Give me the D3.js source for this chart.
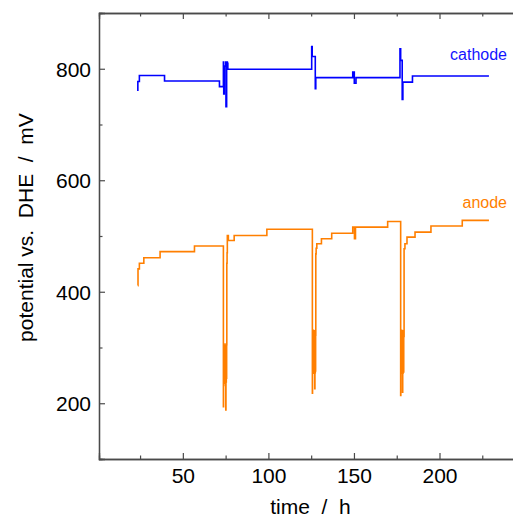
<!DOCTYPE html>
<html>
<head>
<meta charset="utf-8">
<script src="https://cdn.jsdelivr.net/npm/d3@7"></script>
<style>
  body { margin: 0; background: #fff; }
  svg { display: block; font-family: "Liberation Sans", Arial, sans-serif; }
</style>
</head>
<body>
<div id="chart"></div>
<script>
// step-after points: [time / h, potential / mV]
const cathode = [
  [23.7, 760], [23.7, 777], [24.6, 788], [39.3, 778], [71.4, 768],
  [73.7, 812], [73.9, 755], [74.2, 805], [75.1, 812], [75.2, 732],
  [75.6, 812], [76.0, 810], [76.3, 799],
  [125.3, 840], [125.6, 822], [127.4, 764], [127.7, 784],
  [149.3, 794], [150.2, 774], [151.2, 784],
  [176.9, 836], [177.3, 815], [178.2, 745], [178.6, 776],
  [184.2, 787], [228.9, 787]
]

const anode = [
  [23.7, 411], [23.8, 441], [24.6, 451], [27.2, 461], [36.7, 472], [56.8, 482],
  [73.7, 194], [73.8, 300], [73.9, 232], [74.0, 306], [74.1, 238], [74.2, 300],
  [74.3, 236], [74.4, 304], [74.5, 240], [74.6, 298], [74.7, 236], [74.8, 302],
  [74.9, 240], [75.0, 300], [75.1, 188], [75.2, 306], [75.3, 238], [75.4, 300],
  [75.5, 245], [75.6, 305],
  [75.7, 451], [75.85, 470], [76.0, 501], [76.6, 492], [80.0, 501], [99.1, 512],
  [125.7, 218], [125.8, 330], [125.9, 255], [126.0, 328], [126.1, 260], [126.2, 331],
  [126.3, 254], [126.4, 326], [126.5, 258], [126.6, 330], [126.7, 256], [126.8, 325],
  [126.9, 260], [127.0, 330], [127.1, 226], [127.2, 328], [127.3, 255], [127.4, 330],
  [127.5, 258], [127.6, 322],
  [127.7, 468], [127.9, 478], [128.3, 486], [131.0, 495], [137.0, 505],
  [149.3, 516], [150.3, 495], [150.9, 516], [169.7, 526],
  [177.3, 214], [177.4, 330], [177.5, 256], [177.6, 328], [177.7, 254], [177.8, 331],
  [177.9, 258], [178.0, 326], [178.1, 255], [178.2, 330], [178.3, 258], [178.4, 220],
  [178.5, 329], [178.6, 254], [178.7, 330], [178.8, 260], [178.9, 325], [179.0, 256],
  [179.1, 320],
  [179.3, 477], [179.8, 486], [181.0, 498], [185.7, 507], [195.0, 518], [213.3, 528],
  [228.9, 528]
]

const xMajor = [50, 100, 150, 200]
const xMinor = [25, 75, 125, 175, 225]
const yMajor = [200, 400, 600, 800]
const yMinor = [300, 500, 700]

const width = 513
const height = 519
const plotLeft = 99
const plotTop = 13
const plotBottom = 459

const svg = d3.select('#chart').append('svg')
  .attr('width', width)
  .attr('height', height)

const x = d3.scaleLinear().domain([1, 245]).range([plotLeft, 516.5])
const y = d3.scaleLinear().domain([100, 900]).range([plotBottom, plotTop])

const axisColor = '#4a4a4a'

function styleAxis (g) {
  g.selectAll('path').attr('stroke', axisColor).attr('stroke-width', 1.3)
  g.selectAll('line').attr('stroke', axisColor).attr('stroke-width', 1.2)
  g.selectAll('text').attr('fill', '#000').attr('font-size', 21)
    .attr('font-family', '"Liberation Sans", Arial, sans-serif')
}

// bottom axis
svg.append('g')
  .attr('transform', `translate(0,${plotBottom})`)
  .call(d3.axisBottom(x).tickValues(xMajor).tickSize(-6).tickPadding(9).tickFormat(d3.format('d')))
  .call(styleAxis)
svg.append('g')
  .attr('transform', `translate(0,${plotBottom})`)
  .call(d3.axisBottom(x).tickValues(xMinor).tickSize(-3.5).tickFormat(''))
  .call(styleAxis)

// top axis
svg.append('g')
  .attr('transform', `translate(0,${plotTop})`)
  .call(d3.axisTop(x).tickValues(xMajor).tickSize(-6).tickFormat(''))
  .call(styleAxis)
svg.append('g')
  .attr('transform', `translate(0,${plotTop})`)
  .call(d3.axisTop(x).tickValues(xMinor).tickSize(-3.5).tickFormat(''))
  .call(styleAxis)

// left axis
svg.append('g')
  .attr('transform', `translate(${plotLeft},0)`)
  .call(d3.axisLeft(y).tickValues(yMajor).tickSize(-6).tickPadding(8).tickFormat(d3.format('d')))
  .call(styleAxis)
  .call(g => g.selectAll('text').attr('dy', '0.36em'))
svg.append('g')
  .attr('transform', `translate(${plotLeft},0)`)
  .call(d3.axisLeft(y).tickValues(yMinor).tickSize(-3.5).tickFormat(''))
  .call(styleAxis)

const line = d3.line()
  .x(d => x(d[0]))
  .y(d => y(d[1]))
  .curve(d3.curveStepAfter)

svg.append('path')
  .datum(anode)
  .attr('fill', 'none')
  .attr('stroke', '#ff7f00')
  .attr('stroke-width', 1.6)
  .attr('d', line)

svg.append('path')
  .datum(cathode)
  .attr('fill', 'none')
  .attr('stroke', '#0000ff')
  .attr('stroke-width', 1.6)
  .attr('d', line)

// series labels
svg.append('text')
  .attr('x', 507).attr('y', 60)
  .attr('text-anchor', 'end')
  .attr('font-size', 16)
  .attr('fill', '#1414ff')
  .text('cathode')

svg.append('text')
  .attr('x', 507).attr('y', 208)
  .attr('text-anchor', 'end')
  .attr('font-size', 16)
  .attr('fill', '#ff8000')
  .text('anode')

// axis titles
svg.append('text')
  .attr('x', 310.5).attr('y', 514)
  .attr('text-anchor', 'middle')
  .attr('font-size', 21)
  .style('white-space', 'pre')
  .text('time  /  h')

svg.append('text')
  .attr('transform', 'translate(33,227.5) rotate(-90)')
  .attr('text-anchor', 'middle')
  .attr('font-size', 21)
  .style('white-space', 'pre')
  .text('potential vs.  DHE  /  mV')
</script>
</body>
</html>
